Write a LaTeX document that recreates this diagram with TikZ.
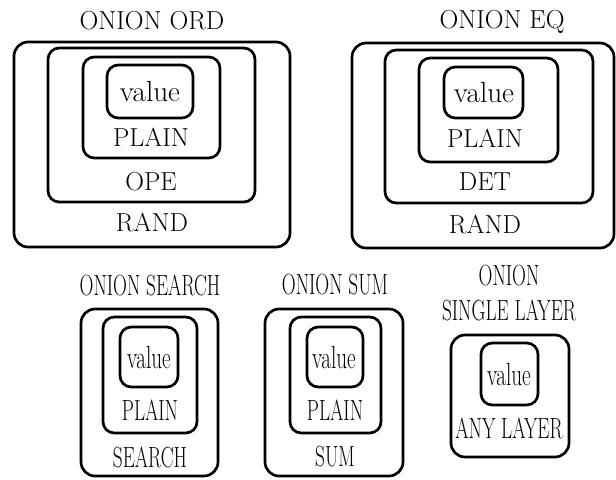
\documentclass[tikz,border=0pt]{standalone}
\usepackage{graphicx}
\newcommand{\narrowtext}[1]{\scalebox{0.66}[1]{\huge #1}}
\tikzset{
  outerbox/.style={line width=1.9pt, rounded corners=10pt},
  innerbox/.style={line width=1.9pt, rounded corners=8pt},
  toplabel/.style={font=\fontsize{18.5}{22}\selectfont, inner sep=0pt},
  topvalue/.style={font=\huge, inner sep=0pt},
  lowlabel/.style={inner sep=0pt, font=\huge, align=center}
}
\begin{document}
\begin{tikzpicture}[x=0.025cm, y=-0.025cm]
\useasboundingbox (0,0) rectangle (616,479);

% onion ord
\node[toplabel] (ordtitle) at (152,21) {ONION ORD};
\draw[outerbox] (14,42) rectangle (290,247);
\draw[innerbox] (48,48) rectangle (255,202);
\draw[innerbox] (83,57) rectangle (220,158);
\draw[innerbox] (107,65) rectangle (193,118);
\node[topvalue] (ordvalue) at (150,91) {value};
\node[toplabel] (ordplain) at (151,137) {PLAIN};
\node[toplabel] (ordope) at (151,182) {OPE};
\node[toplabel] (ordrand) at (152,223) {RAND};

% onion eq
\node[toplabel] (eqtitle) at (502,22) {ONION EQ};
\draw[outerbox] (352,43) rectangle (614,248);
\draw[innerbox] (385,50) rectangle (593,203);
\draw[innerbox] (419,58) rectangle (558,162);
\draw[innerbox] (444,67) rectangle (523,118);
\node[topvalue] (eqvalue) at (484,92) {value};
\node[toplabel] (eqplain) at (485,138) {PLAIN};
\node[toplabel] (eqdet) at (485,182) {DET};
\node[toplabel] (eqrand) at (485,225) {RAND};

% onion search and onion sum
\foreach \name/\lab/\xa/\xb/\xc/\xd/\xe/\xf/\xm in
  {search/SEARCH/81/218/103/197/120/178/150,
   sum/SUM/265/403/290/381/307/363/335}
{
\draw[outerbox] (\xa,309) rectangle (\xb,476);
\draw[innerbox] (\xc,317) rectangle (\xd,433);
\draw[innerbox] (\xe,327) rectangle (\xf,387);
\node[lowlabel] (\name title) at (\xm,285) {\narrowtext{ONION \lab}};
\node[lowlabel] (\name value) at (\xm-1,357) {\scalebox{1.1}{\narrowtext{value}}};
\node[lowlabel] (\name plain) at (\xm,410) {\narrowtext{PLAIN}};
\node[lowlabel] (\name layer) at (\xm,457) {\narrowtext{\lab}};
}

% onion single layer
\node[lowlabel] (singletitle) at (509,293) {\narrowtext{ONION}\\\narrowtext{SINGLE LAYER}};
\draw[outerbox] (451,335) rectangle (569,457);
\draw[innerbox] (481,343) rectangle (538,405);
\node[lowlabel] (singlevalue) at (509,374) {\scalebox{1.1}{\narrowtext{value}}};
\node[lowlabel] (singlelayer) at (509,428) {\narrowtext{ANY LAYER}};
\end{tikzpicture}
\end{document}
